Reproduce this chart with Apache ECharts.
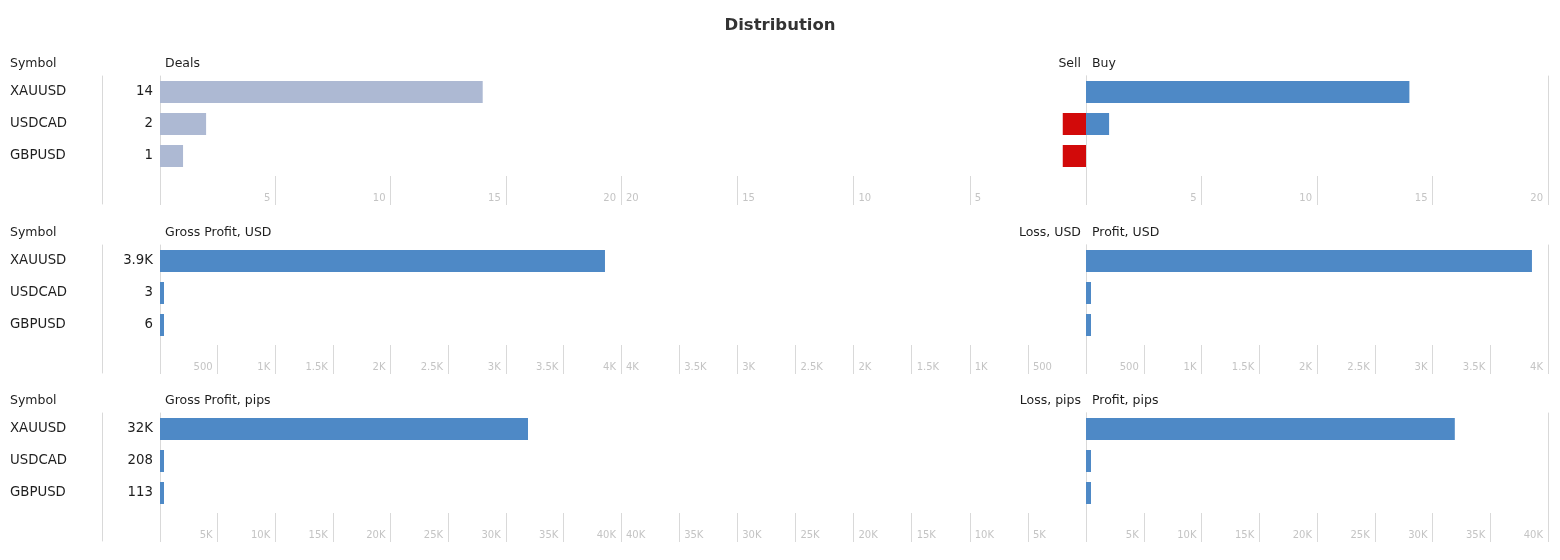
<!DOCTYPE html>
<html>
<head>
<meta charset="utf-8">
<script src="https://cdn.jsdelivr.net/npm/echarts@6/dist/echarts.min.js"></script>
<style>html,body{margin:0;padding:0;background:#fff}#c{width:1560px;height:560px}</style>
</head>
<body>
<div id="c"></div>
<script>
const symbols = ['XAUUSD', 'USDCAD', 'GBPUSD'];
const deals = [14, 2, 1];
const sellDeals = [0, 1, 1];
const buyDeals = [14, 1, 0];
const grossProfitUsd = [3861, 3, 6];
const lossUsd = [0, 0, 0];
const profitUsd = [3861, 3, 6];
const grossProfitPips = [31931, 208, 113];
const lossPips = [0, 0, 0];
const profitPips = [31931, 208, 113];
const headers = [
  ['Deals', 'Sell', 'Buy'],
  ['Gross Profit, USD', 'Loss, USD', 'Profit, USD'],
  ['Gross Profit, pips', 'Loss, pips', 'Profit, pips']
];
const axisMax = [20, 4000, 40000];
const axisInterval = [5, 500, 5000];

const panelValues = [
  [deals, sellDeals, buyDeals],
  [grossProfitUsd, lossUsd, profitUsd],
  [grossProfitPips, lossPips, profitPips]
];

const F = 'DejaVu Sans';
const TEXT = '#1e1e1e';
const LINE = '#d9d9d9';
const TICK = '#c4c4c4';
const BLUE = '#4e89c6';
const GREY = '#adb9d3';
const RED = '#d20a0a';

const panelTop = [76, 245, 413];
const cols = [{left: 160, width: 461}, {left: 621, width: 465}, {left: 1086, width: 462}];
const catData = symbols.concat(['']);

function tickFmt(v) {
  if (v === 0) return '';
  return v >= 1000 ? (v / 1000) + 'K' : String(v);
}
function valFmt(v) {
  return v >= 1000 ? (v / 1000).toPrecision(2) + 'K' : String(v);
}

const grids = [], xAxes = [], yAxes = [], series = [], titles = [];
titles.push({text: 'Distribution', left: 'center', top: 17, padding: 0,
  textStyle: {fontFamily: F, fontSize: 16.5, fontWeight: 'bold', color: '#333'}});

const hStyle = {fontFamily: F, fontSize: 12.5, fontWeight: 'normal', color: TEXT};

panelTop.forEach((top, pi) => {
  const hy = top - 19;
  titles.push({text: 'Symbol', left: 10, top: hy, padding: 0, textStyle: hStyle});
  titles.push({text: headers[pi][0], left: 165, top: hy, padding: 0, textStyle: hStyle});
  titles.push({text: headers[pi][1], right: 479, top: hy, padding: 0, textStyle: hStyle});
  titles.push({text: headers[pi][2], left: 1092, top: hy, padding: 0, textStyle: hStyle});

  cols.forEach((c, ci) => {
    const inv = ci === 1;
    const gBar = grids.length;
    grids.push({left: c.left, width: c.width, top: top, height: 128});
    const gTick = grids.length;
    grids.push({left: c.left, width: c.width, top: top + 100, height: 29});

    const xBar = xAxes.length;
    xAxes.push({gridIndex: gBar, type: 'value', min: 0, max: axisMax[pi], interval: axisInterval[pi], inverse: inv, show: false});
    xAxes.push({gridIndex: gTick, type: 'value', min: 0, max: axisMax[pi], interval: axisInterval[pi], inverse: inv,
      position: 'bottom', axisLine: {show: false}, axisTick: {show: false},
      splitLine: {show: true, lineStyle: {color: LINE, width: 1}},
      axisLabel: {inside: true, margin: 7, verticalAlign: 'middle', align: inv ? 'left' : 'right',
        padding: inv ? [0, 0, 0, 5] : [0, 5, 0, 0], color: TICK, fontSize: 10, fontFamily: F, formatter: tickFmt}});

    const lineAxis = (pos, extra) => Object.assign({gridIndex: gBar, type: 'category', data: catData, inverse: true,
      position: pos, axisLine: {show: true, lineStyle: {color: LINE, width: 1}}, axisTick: {show: false},
      axisLabel: {show: false}, splitLine: {show: false}}, extra || {});

    const yBar = yAxes.length;
    if (ci === 0) {
      yAxes.push(lineAxis('left', {axisLabel: {show: true, margin: 150, align: 'left', padding: [3, 0, 0, 0], color: TEXT, fontSize: 13.3, fontFamily: F}}));
      yAxes.push(lineAxis('left', {offset: 58}));
    } else if (ci === 1) {
      yAxes.push(lineAxis('left'));
    } else {
      yAxes.push(lineAxis('left'));
      yAxes.push(lineAxis('right'));
    }
    yAxes.push({gridIndex: gTick, type: 'value', show: false});

    const vals = panelValues[pi][ci];
    const color = ci === 1 ? RED : (pi === 0 && ci === 0 ? GREY : BLUE);
    series.push({
      type: 'bar', xAxisIndex: xBar, yAxisIndex: yBar,
      data: vals.map(v => v === 0 ? '-' : v),
      barWidth: 22, barMinHeight: ci === 2 ? 5 : 4,
      itemStyle: {color: color},
      label: ci === 0 ? {show: true, position: 'left', distance: 7, padding: [3, 0, 0, 0], color: TEXT, fontSize: 13.3, fontFamily: F,
        formatter: p => valFmt(p.value)} : {show: false},
      silent: true
    });
  });
});

const chart = echarts.init(document.getElementById('c'), null, {renderer: 'canvas'});
chart.setOption({animation: false, backgroundColor: '#fff', title: titles, grid: grids, xAxis: xAxes, yAxis: yAxes, series: series});
</script>
</body>
</html>
